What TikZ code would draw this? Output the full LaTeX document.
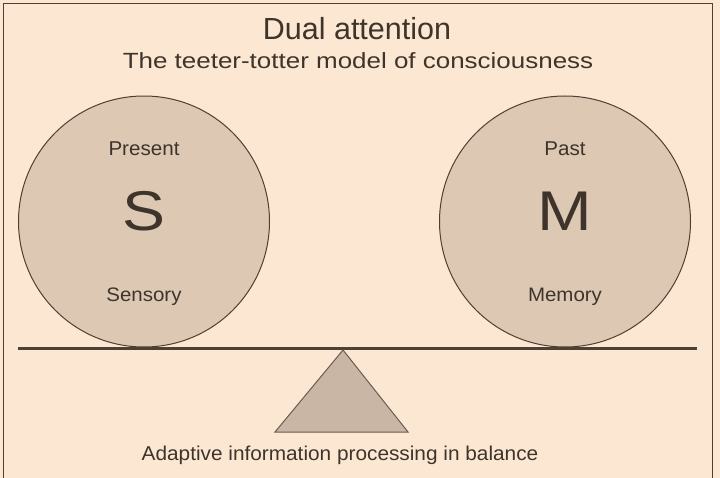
\documentclass[tikz,border=0pt]{standalone}
\usepackage{fontspec}
\setmainfont{Liberation Sans}
\usepackage{graphicx}
\definecolor{bg}{HTML}{FCE8D2}
\definecolor{ballfill}{HTML}{DDC9B3}
\definecolor{fulcrumfill}{HTML}{C9B6A4}
\definecolor{ink}{HTML}{4D4034}
\definecolor{txt}{HTML}{3E342B}
\newcommand{\tx}[3]{\fontsize{#1}{#1}\selectfont\scalebox{#2}[1]{#3}}
\begin{document}
\begin{tikzpicture}[x=1pt,y=-1pt,
  ball/.style={circle, draw=ink, fill=ballfill, line width=1pt, minimum size=251pt, inner sep=0pt},
  lbl/.style={anchor=base, text=txt, inner sep=0pt},
  framestyle/.style={draw=ink, line width=1.5pt},
  beamstyle/.style={draw=ink, line width=2.6pt},
  fulcrum/.style={draw=ink!85, fill=fulcrumfill, line width=1pt, line join=miter}]
\useasboundingbox (0,0) rectangle (720,478);
\clip (0,0) rectangle (720,478);
\fill[bg] (0,0) rectangle (720,478);
\draw[framestyle] (3.5,3.5) rectangle (712.5,500);
% balls
\node[ball] (left) at (144,221.5) {};
\node[ball] (right) at (565,221.5) {};
% beam
\coordinate (beamL) at (18,348.5);
\coordinate (beamR) at (697,348.5);
\draw[beamstyle] (beamL) -- (beamR);
% fulcrum
\coordinate (apex) at (343,350);
\coordinate (baseL) at (275,432);
\coordinate (baseR) at (408,432);
\draw[fulcrum] (apex) -- (baseR) -- (baseL) -- cycle;
% texts
\node[lbl] (title) at (357,39.8) {\tx{30.5}{1.0}{Dual attention}};
\node[lbl] (subtitle) at (358,69) {\tx{22}{1.18}{The teeter-totter model of consciousness}};
\node[lbl] (present) at (144,156) {\tx{20}{1.03}{Present}};
\node[lbl] (past) at (565,156) {\tx{20}{1.03}{Past}};
\node[lbl] (S) at (144,231) {\tx{56}{1.15}{S}};
\node[lbl] (M) at (565,231) {\tx{56}{1.17}{M}};
\node[lbl] (sensory) at (144,301.5) {\tx{19.5}{1.05}{Sensory}};
\node[lbl] (memory) at (565,301.5) {\tx{19.5}{1.05}{Memory}};
\node[lbl] (balance) at (340,460) {\tx{20}{1.04}{Adaptive information processing in balance}};
\end{tikzpicture}
\end{document}
